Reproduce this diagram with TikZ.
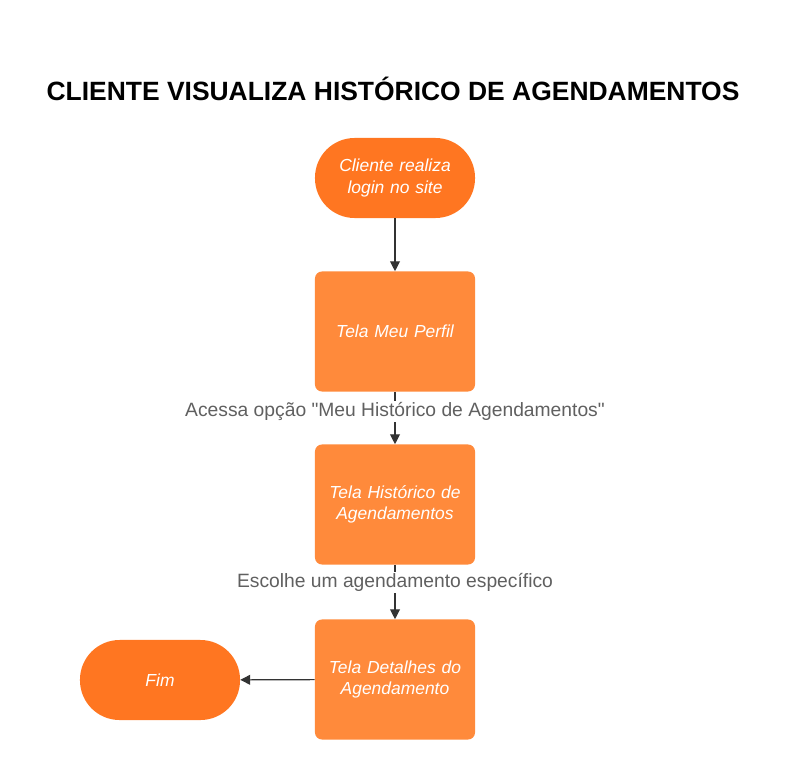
\documentclass[tikz,border=0pt]{standalone}
\usepackage{fontspec}
\setmainfont{Liberation Sans}
\newfontfamily\labelfont{Liberation Sans}
\usetikzlibrary{arrows.meta}
\definecolor{termorange}{HTML}{FF7621}
\definecolor{screenorange}{HTML}{FF8A3B}
\definecolor{labelgray}{HTML}{606060}
\tikzset{terminal/.style={rectangle, rounded corners=0.99cm, fill=termorange, minimum width=4cm, minimum height=2cm, text width=3.7cm, align=center, text=white, font=\itshape\fontsize{12.4}{15}\selectfont},
screen/.style={rectangle, rounded corners=5pt, fill=screenorange, minimum width=4cm, minimum height=3cm, text width=3.7cm, align=center, text=white, font=\itshape\fontsize{12.4}{15}\selectfont},
flow/.style={draw=black!80, thick, -{Triangle[length=7pt, width=7pt]}},
steplabel/.style={fill=white, text=labelgray, inner sep=1pt, font=\labelfont\fontsize{13.7}{16}\selectfont}}

\begin{document}
\begin{tikzpicture}[x=0.025cm, y=-0.025cm]
		\useasboundingbox (0,0) rectangle (800,780);

		\node (title) at (393,89) {\bfseries\fontsize{18.8}{23}\selectfont CLIENTE VISUALIZA HISTÓRICO DE AGENDAMENTOS};

		\node[terminal] (login) at (395,178) {Cliente realiza login no site};
		\node[screen] (perfil) at (395,331.5) {Tela Meu Perfil};
		\node[screen] (historico) at (395,504.5) {Tela Histórico de Agendamentos};
		\node[screen] (detalhes) at (395,679.5) {Tela Detalhes do Agendamento};
		\node[terminal] (fim) at (160,680) {Fim};

		\draw[flow] (login) -- (perfil);
		\draw[flow] (perfil) -- node[steplabel, pos=0.38] {Acessa opção "Meu Histórico de Agendamentos"} (historico);
		\draw[flow] (historico) -- node[steplabel, pos=0.32] {Escolhe um agendamento específico} (detalhes);
		\draw[flow] (detalhes) -- (fim);

	\end{tikzpicture}
\end{document}
